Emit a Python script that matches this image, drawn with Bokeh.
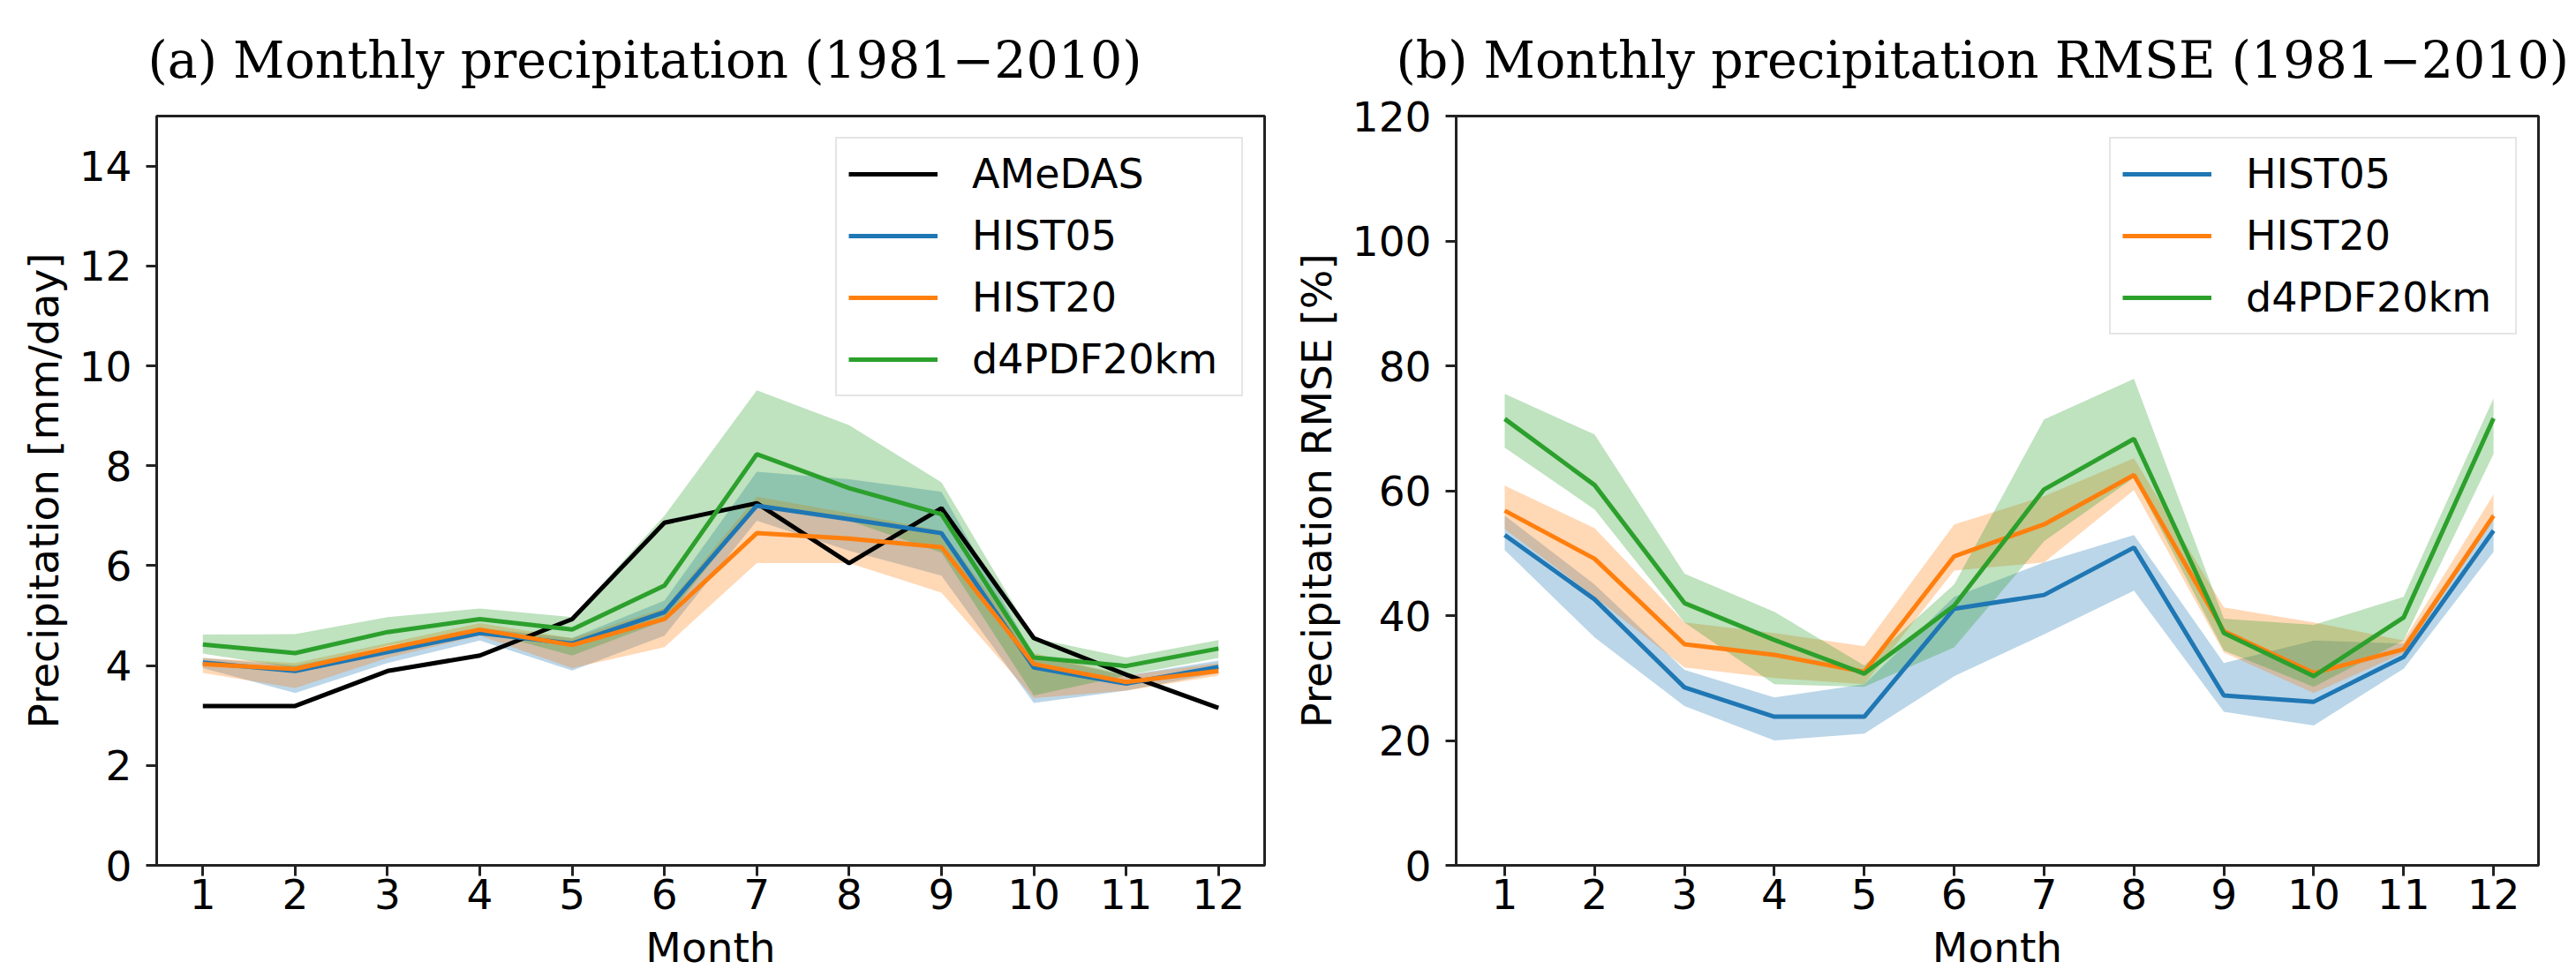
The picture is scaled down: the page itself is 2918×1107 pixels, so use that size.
from bokeh.plotting import figure
from bokeh.layouts import row
from bokeh.models import Range1d, FixedTicker
from bokeh.embed import file_html
from bokeh.resources import INLINE

months = [1, 2, 3, 4, 5, 6, 7, 8, 9, 10, 11, 12]

# Panel (a): monthly precipitation [mm/day]
amedas = [3.19, 3.19, 3.89, 4.20, 4.93, 6.86, 7.25, 6.05, 7.15, 4.55, 3.82, 3.15]
hist05_a = [4.06, 3.89, 4.27, 4.65, 4.44, 5.07, 7.20, 6.93, 6.65, 3.96, 3.64, 3.97]
hist05_a_lo = [3.95, 3.45, 4.05, 4.50, 3.90, 4.60, 6.90, 6.30, 5.80, 3.25, 3.50, 3.85]
hist05_a_hi = [4.15, 4.00, 4.35, 4.75, 4.55, 5.30, 7.88, 7.73, 7.48, 4.20, 3.80, 4.10]
hist20_a = [4.03, 3.93, 4.34, 4.72, 4.41, 4.93, 6.65, 6.54, 6.37, 4.03, 3.67, 3.89]
hist20_a_lo = [3.85, 3.55, 4.15, 4.60, 3.95, 4.37, 6.05, 6.05, 5.46, 3.35, 3.50, 3.80]
hist20_a_hi = [4.15, 4.05, 4.45, 4.85, 4.55, 5.15, 7.38, 7.05, 6.70, 4.25, 3.80, 4.05]
d4pdf_a = [4.42, 4.25, 4.67, 4.93, 4.72, 5.60, 8.23, 7.55, 7.03, 4.16, 3.99, 4.34]
d4pdf_a_lo = [4.24, 3.95, 4.40, 4.70, 4.20, 4.90, 7.20, 6.90, 6.26, 3.40, 3.80, 4.15]
d4pdf_a_hi = [4.62, 4.63, 4.97, 5.14, 4.97, 7.00, 9.51, 8.81, 7.67, 4.55, 4.16, 4.51]

# Panel (b): monthly precipitation RMSE [%]
hist05_b = [52.9, 42.6, 28.5, 23.8, 23.8, 41.1, 43.3, 50.9, 27.2, 26.2, 33.4, 53.6]
hist05_b_lo = [50.5, 36.5, 25.5, 20.0, 21.1, 30.3, 37.0, 44.0, 24.6, 22.4, 31.5, 50.2]
hist05_b_hi = [56.0, 45.0, 31.3, 26.9, 29.0, 43.0, 48.5, 52.9, 32.4, 36.0, 35.5, 56.4]
hist20_b = [56.8, 49.1, 35.4, 33.7, 31.0, 49.5, 54.6, 62.5, 37.5, 30.8, 34.6, 56.0]
hist20_b_lo = [53.9, 43.0, 31.7, 30.0, 29.0, 47.2, 48.5, 60.1, 34.1, 27.6, 34.0, 55.3]
hist20_b_hi = [60.8, 54.0, 38.9, 37.2, 35.1, 54.6, 59.1, 65.2, 41.3, 38.9, 36.0, 59.4]
d4pdf_b = [71.5, 60.9, 42.0, 36.1, 30.7, 41.6, 60.2, 68.3, 37.2, 30.3, 39.7, 71.6]
d4pdf_b_lo = [66.9, 57.0, 38.9, 29.0, 28.6, 34.9, 51.9, 62.1, 34.4, 28.6, 36.0, 65.9]
d4pdf_b_hi = [75.5, 69.0, 46.7, 40.6, 32.0, 45.0, 71.4, 77.9, 39.5, 38.5, 43.0, 74.8]

title_a = "(a) Monthly precipitation (1981\u22122010)"
title_b = "(b) Monthly precipitation RMSE (1981\u22122010)"
ylabel_a = "Precipitation [mm/day]"
ylabel_b = "Precipitation RMSE [%]"
xlabel = "Month"
yticks_a = [0, 2, 4, 6, 8, 10, 12, 14]
yticks_b = [0, 20, 40, 60, 80, 100, 120]

C_BLUE = "#1f77b4"
C_ORANGE = "#ff7f0e"
C_GREEN = "#2ca02c"
FONT = "DejaVu Sans"
FS = "47px"


def make_fig(width, left, right, xr, yr, yticks, title, ylabel, title_offset,
             bands, lines, standoff):
    p = figure(width=width, height=1107, x_range=Range1d(*xr), y_range=Range1d(*yr),
               output_backend="svg", toolbar_location=None,
               min_border_left=left, min_border_right=right,
               min_border_top=131, min_border_bottom=127)
    p.background_fill_color = "white"
    p.border_fill_color = "white"
    p.outline_line_color = "#222222"
    p.outline_line_width = 3
    p.grid.visible = False

    p.title.text = title
    p.title.text_font = "DejaVu Serif"
    p.title.text_font_size = "57px"
    p.title.text_font_style = "normal"
    p.title.text_color = "black"
    p.title.align = "left"
    p.title.offset = title_offset
    p.title.standoff = 61

    for ax in (p.xaxis[0], p.yaxis[0]):
        ax.axis_line_color = "#222222"
        ax.axis_line_width = 3
        ax.major_tick_line_color = "#222222"
        ax.major_tick_line_width = 3
        ax.major_tick_out = 12
        ax.major_tick_in = 0
        ax.minor_tick_line_color = None
        ax.major_label_text_font = FONT
        ax.major_label_text_font_size = FS
        ax.major_label_text_color = "black"
        ax.axis_label_text_font = FONT
        ax.axis_label_text_font_size = FS
        ax.axis_label_text_font_style = "normal"
        ax.axis_label_text_color = "black"

    p.xaxis.ticker = FixedTicker(ticks=months)
    p.xaxis.axis_label = xlabel
    p.xaxis.major_label_standoff = 3
    p.xaxis.axis_label_standoff = 13
    p.yaxis.ticker = FixedTicker(ticks=yticks)
    p.yaxis.axis_label = ylabel
    p.yaxis.major_label_standoff = 16
    p.yaxis.axis_label_standoff = 10

    for lo, hi, col in bands:
        p.varea(x=months, y1=lo, y2=hi, fill_color=col, fill_alpha=0.3)
    for ys, col, lab in lines:
        p.line(months, ys, line_color=col, line_width=5, legend_label=lab)

    lg = p.legend[0]
    lg.location = "top_right"
    lg.margin = 24
    lg.padding = 13
    lg.spacing = 16
    lg.glyph_width = 101
    lg.glyph_height = 54
    lg.label_height = 54
    lg.label_width = 292
    lg.label_standoff = standoff
    lg.label_text_font = FONT
    lg.label_text_font_size = "46px"
    lg.label_text_color = "black"
    lg.border_line_color = "#cccccc"
    lg.border_line_width = 2
    lg.background_fill_color = "white"
    lg.background_fill_alpha = 0.8
    return p


pa = make_fig(1460, 177, 28, (0.5, 12.5), (0, 15), yticks_a, title_a, ylabel_a, -10,
              [(hist05_a_lo, hist05_a_hi, C_BLUE),
               (hist20_a_lo, hist20_a_hi, C_ORANGE),
               (d4pdf_a_lo, d4pdf_a_hi, C_GREEN)],
              [(amedas, "black", "AMeDAS"),
               (hist05_a, C_BLUE, "HIST05"),
               (hist20_a, C_ORANGE, "HIST20"),
               (d4pdf_a, C_GREEN, "d4PDF20km")], 39)

pb = make_fig(1458, 189, 43, (0.46, 12.5), (0, 120), yticks_b, title_b, ylabel_b, -68,
              [(hist05_b_lo, hist05_b_hi, C_BLUE),
               (hist20_b_lo, hist20_b_hi, C_ORANGE),
               (d4pdf_b_lo, d4pdf_b_hi, C_GREEN)],
              [(hist05_b, C_BLUE, "HIST05"),
               (hist20_b, C_ORANGE, "HIST20"),
               (d4pdf_b, C_GREEN, "d4PDF20km")], 39)

layout = row(pa, pb)
open("out.html", "w").write(file_html(layout, INLINE))
